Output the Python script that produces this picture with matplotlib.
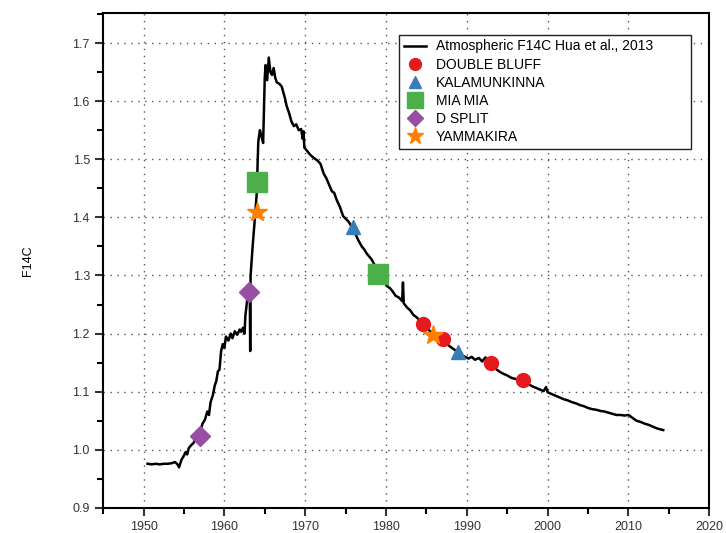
import matplotlib.pyplot as plt
from matplotlib.ticker import MultipleLocator

plt.rcParams['font.family'] = ['Liberation Sans', 'DejaVu Sans']

# atmospheric F14C curve
years = [1950.5, 1951.0, 1951.5, 1952.0, 1952.5, 1953.0, 1953.5, 1953.9, 1954.2, 1954.4,
         1954.7, 1955.0, 1955.2, 1955.4, 1955.6, 1955.9, 1956.2, 1956.6, 1957.0, 1957.3,
         1957.6, 1957.9, 1958.1, 1958.3, 1958.6, 1958.8, 1959.0, 1959.2, 1959.4, 1959.6,
         1959.8, 1960.0, 1960.2, 1960.5, 1960.8, 1961.0, 1961.3, 1961.6, 1961.9, 1962.1,
         1962.3, 1962.5, 1962.6, 1962.8, 1963.0, 1963.15, 1963.2, 1963.25, 1963.5, 1963.8,
         1964.0, 1964.2, 1964.4, 1964.6, 1964.8, 1965.0, 1965.1, 1965.3, 1965.5, 1965.7,
         1965.9, 1966.1, 1966.3, 1966.5, 1966.8, 1967.1, 1967.3, 1967.5, 1967.7, 1968.0,
         1968.3, 1968.6, 1968.9, 1969.2, 1969.5, 1969.7, 1969.8, 1969.9, 1970.2, 1970.6,
         1971.0, 1971.5, 1971.9, 1972.3, 1972.6, 1972.9, 1973.3, 1973.6, 1973.9, 1974.3,
         1974.7, 1975.0, 1975.4, 1975.8, 1976.2, 1976.6, 1977.0, 1977.3, 1977.6, 1977.9,
         1978.2, 1978.6, 1979.0, 1979.4, 1979.8, 1980.1, 1980.5, 1980.8, 1981.2, 1981.6,
         1982.0, 1982.1, 1982.2, 1982.6, 1983.0, 1983.4, 1983.8, 1984.2, 1984.6, 1985.0,
         1985.4, 1985.8, 1986.2, 1986.6, 1987.0, 1987.5, 1987.9, 1988.4, 1988.9, 1989.3,
         1989.8, 1990.2, 1990.6, 1991.0, 1991.5, 1991.9, 1992.3, 1992.7, 1993.0, 1993.4,
         1993.7, 1994.1, 1994.5, 1995.0, 1995.5, 1996.0, 1996.5, 1997.0, 1997.5, 1998.0,
         1998.5, 1999.0, 1999.5, 1999.8, 2000.0, 2000.5, 2001.0, 2001.5, 2002.0, 2002.5,
         2003.0, 2003.5, 2004.0, 2004.5, 2005.0, 2005.5, 2006.0, 2006.5, 2007.0, 2007.5,
         2008.0, 2008.5, 2009.0, 2009.5, 2010.0, 2010.5, 2011.0, 2011.5, 2012.0, 2012.5,
         2013.0, 2013.5, 2014.0, 2014.3]
f14c = [0.976, 0.975, 0.976, 0.975, 0.976, 0.976, 0.977, 0.979, 0.975, 0.970,
        0.983, 0.990, 0.996, 0.992, 1.003, 1.008, 1.012, 1.024, 1.032, 1.045,
        1.052, 1.066, 1.060, 1.082, 1.095, 1.110, 1.118, 1.135, 1.138, 1.170,
        1.182, 1.175, 1.195, 1.188, 1.200, 1.192, 1.204, 1.198, 1.207, 1.203,
        1.210, 1.200, 1.230, 1.255, 1.270, 1.272, 1.170, 1.300, 1.350, 1.402,
        1.440, 1.530, 1.550, 1.540, 1.528, 1.640, 1.662, 1.636, 1.675, 1.650,
        1.645, 1.657, 1.640, 1.632, 1.630, 1.625, 1.615, 1.605, 1.592, 1.580,
        1.565, 1.557, 1.560, 1.550, 1.552, 1.535, 1.548, 1.520, 1.515, 1.508,
        1.503, 1.498, 1.492, 1.475, 1.468, 1.458, 1.445, 1.442, 1.430, 1.418,
        1.402, 1.398, 1.392, 1.383, 1.372, 1.360, 1.350, 1.345, 1.338, 1.333,
        1.328, 1.318, 1.305, 1.296, 1.290, 1.282, 1.278, 1.273, 1.265, 1.262,
        1.256, 1.288, 1.252, 1.245, 1.240, 1.232, 1.228, 1.222, 1.216, 1.210,
        1.205, 1.199, 1.196, 1.192, 1.190, 1.183, 1.178, 1.173, 1.168, 1.163,
        1.160, 1.157, 1.160, 1.155, 1.158, 1.152, 1.159, 1.150, 1.148, 1.143,
        1.138, 1.134, 1.131, 1.128, 1.124, 1.122, 1.120, 1.118, 1.114, 1.110,
        1.107, 1.104, 1.101, 1.108, 1.099, 1.096, 1.093, 1.090, 1.087, 1.085,
        1.082, 1.080, 1.077, 1.075, 1.072, 1.070, 1.069, 1.067, 1.066, 1.064,
        1.062, 1.060, 1.060, 1.059, 1.060, 1.055, 1.050, 1.048, 1.045, 1.043,
        1.040, 1.037, 1.035, 1.034]

# sample sites
double_bluff_x = [1984.6, 1987.1, 1993.0, 1997.0]
double_bluff_y = [1.216, 1.190, 1.149, 1.121]
kalamunkinna_x = [1975.9, 1988.9]
kalamunkinna_y = [1.383, 1.169]
mia_mia_x = [1964.0, 1979.0]
mia_mia_y = [1.460, 1.302]
d_split_x = [1957.0, 1963.0]
d_split_y = [1.024, 1.271]
yammakira_x = [1964.0, 1985.8]
yammakira_y = [1.409, 1.198]

fig = plt.figure(figsize=(7.26, 5.33), dpi=100)
ax = fig.add_axes([0.142, 0.047, 0.835, 0.929])

ax.plot(years, f14c, color='black', lw=1.8, label='Atmospheric F14C Hua et al., 2013')
ax.plot(double_bluff_x, double_bluff_y, 'o', color='#e41a1c', ms=10, ls='none', label='DOUBLE BLUFF')
ax.plot(kalamunkinna_x, kalamunkinna_y, '^', color='#377eb8', ms=10, ls='none', label='KALAMUNKINNA')
ax.plot(mia_mia_x, mia_mia_y, 's', color='#4daf4a', ms=14, ls='none', label='MIA MIA')
ax.plot(d_split_x, d_split_y, 'D', color='#984ea3', ms=10, ls='none', label='D SPLIT')
ax.plot(yammakira_x, yammakira_y, '*', color='#ff7f00', ms=15, ls='none', label='YAMMAKIRA')

ax.set_xlim(1945, 2020)
ax.set_ylim(0.9, 1.752)
ax.xaxis.set_major_locator(MultipleLocator(10))
ax.xaxis.set_minor_locator(MultipleLocator(5))
ax.yaxis.set_major_locator(MultipleLocator(0.1))
ax.yaxis.set_minor_locator(MultipleLocator(0.05))
ax.yaxis.set_major_formatter(plt.FormatStrFormatter('%.1f'))
ax.tick_params(which='major', direction='out', length=6, width=1.5, labelsize=9, colors='#333333')
ax.tick_params(which='minor', direction='out', length=4, width=1.5)
ax.grid(True, which='major', color='#555555', lw=1, dashes=(1, 4))
for s in ax.spines.values():
    s.set_linewidth(1.5)

ax.set_ylabel('F14C', fontsize=9, labelpad=28)

leg = ax.legend(loc='upper left', bbox_to_anchor=(0.488, 0.7, 0.482, 0.256), mode='expand',
                borderaxespad=0, fancybox=False, framealpha=1, edgecolor='#222222',
                fontsize=10, handlelength=1.6, handletextpad=0.7, labelspacing=0.3,
                borderpad=0.35, markerscale=0.85)
leg.get_frame().set_linewidth(1)

fig.savefig('out.png', dpi=100)
